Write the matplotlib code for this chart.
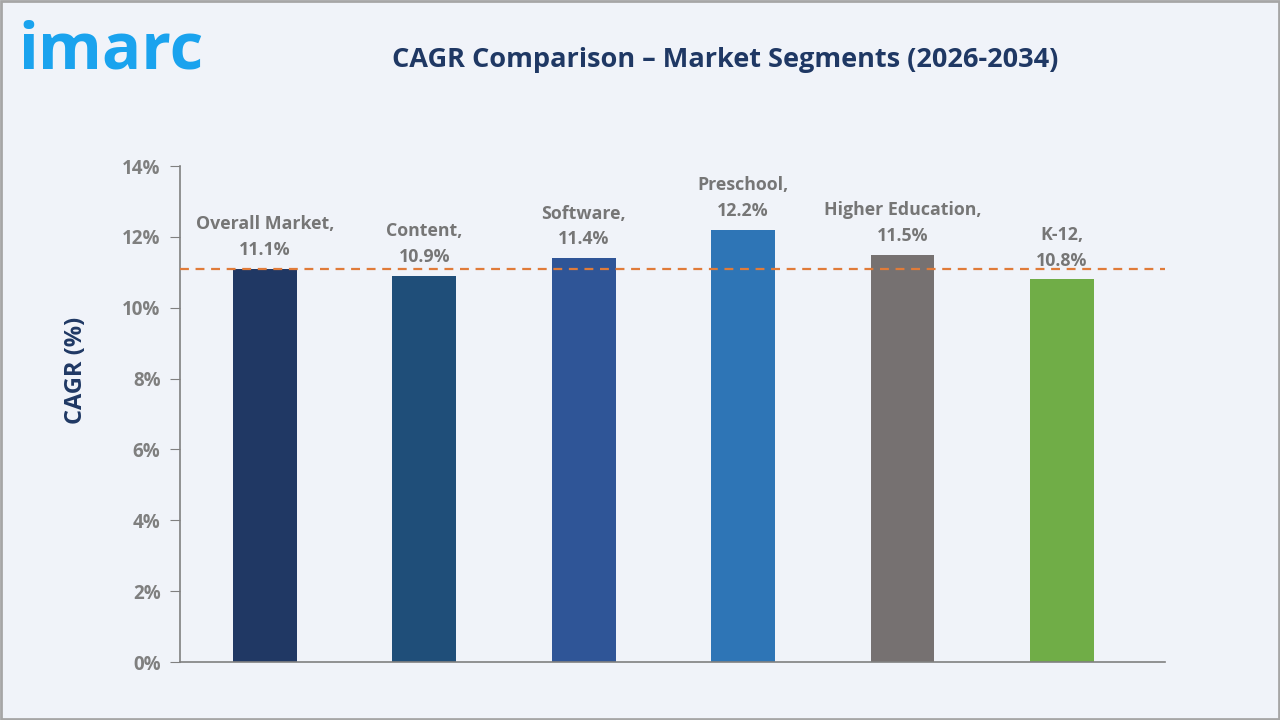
import matplotlib
matplotlib.use("Agg")
import matplotlib.pyplot as plt
from matplotlib.patches import Rectangle

plt.rcParams['font.family'] = ['Open Sans', 'DejaVu Sans']

categories = ["Overall Market", "Content", "Software", "Preschool", "Higher Education", "K-12"]
values = [11.1, 10.9, 11.4, 12.2, 11.5, 10.8]
colors = ["#203864", "#1F4E79", "#2F5597", "#2E75B6", "#767171", "#70AD47"]
reference = 11.1
yticks = [0, 2, 4, 6, 8, 10, 12, 14]

bg = "#F0F3F9"
fig = plt.figure(figsize=(12.8, 7.2), dpi=100, facecolor=bg)
fig.patches.append(Rectangle((0.001, 0.001), 0.998, 0.997, transform=fig.transFigure,
                             fill=False, edgecolor="#A6A6A6", linewidth=2))

ax = fig.add_axes([180/1280, 1-662/720, (1165-180)/1280, (662-166)/720])
ax.set_facecolor(bg)
x = list(range(len(categories)))
ax.bar(x, values, width=0.40, color=colors, zorder=2)
ax.axhline(reference, color="#E07B39", linestyle=(0, (4, 3)), linewidth=1.6, zorder=3)

for xi, cat, v in zip(x, categories, values):
    ax.annotate(f"{cat},\n{v:.1f}%", (xi, v), xytext=(0, 7), textcoords="offset points",
                ha="center", va="bottom", fontsize=12.8, fontweight="bold", color="#767676",
                linespacing=1.55)

ax.set_xlim(-0.533, 5.646)
ax.set_ylim(0, 14)
ax.set_yticks(yticks)
ax.set_yticklabels([f"{t}%" for t in yticks])
ax.set_xticks([])
ax.tick_params(axis='y', direction='out', length=7, color="#808080", labelsize=13.5,
               labelcolor="#7F7F7F", pad=7)
for lab in ax.get_yticklabels():
    lab.set_fontweight("bold")
for s in ["top", "right"]:
    ax.spines[s].set_visible(False)
for s in ["left", "bottom"]:
    ax.spines[s].set_color("#808080")
    ax.spines[s].set_linewidth(1.2)

ax.set_ylabel("CAGR (%)", fontsize=17, fontweight="bold", color="#1F3864")
ax.yaxis.set_label_coords(-(180-88)/985, (662-370)/496)

fig.text(725/1280, 1-60/720, "CAGR Comparison – Market Segments (2026-2034)",
         ha="center", va="center", fontsize=19.5, fontweight="bold", color="#1F3864")
fig.text(18/1280, 1-52/720, "imarc", ha="left", va="center", fontsize=47,
         fontweight="bold", color="#1AA3EE")

fig.savefig("out.png", dpi=100, facecolor=bg)
